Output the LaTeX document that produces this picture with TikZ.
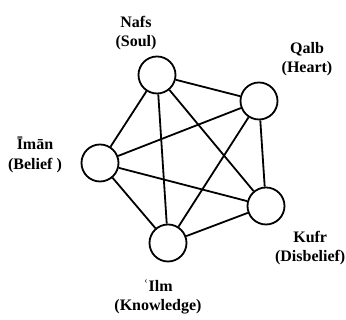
\documentclass[tikz,border=0pt]{standalone}
\usepackage{fontspec}
\setmainfont{Liberation Serif}
\begin{document}
\begin{tikzpicture}[x=1pt,y=1pt,
  vert/.style={circle,draw,line width=1.8pt,minimum size=37pt,inner sep=0pt},
  lbl/.style={font=\fontsize{16}{19.5}\selectfont\bfseries,align=center,inner sep=0pt},
  edge/.style={line width=1.8pt}]
\useasboundingbox (0,0) rectangle (346,320);
\node[vert] (nafs) at (157,245) {};
\node[vert] (qalb) at (259,219) {};
\node[vert] (iman) at (100,157) {};
\node[vert] (kufr) at (266,114) {};
\node[vert] (ilm)  at (168,77) {};
\node[lbl] (lnafs) at (136,287) {Nafs\\(Soul)};
\node[lbl] (lqalb) at (307,261) {Qalb\\(Heart)};
\node[lbl] (liman) at (35,165) {Īmān\\(Belief )};
\node[lbl,anchor=east] (lkufr) at (345.5,72) {Kufr\\(Disbelief)};
\node[lbl] (lilm)  at (158,23) {ʿIlm\\(Knowledge)};
\foreach \a/\b in {nafs/qalb,nafs/iman,nafs/kufr,nafs/ilm,qalb/iman,qalb/kufr,qalb/ilm,iman/kufr,iman/ilm,kufr/ilm}
  \draw[edge] (\a) -- (\b);
\end{tikzpicture}
\end{document}
